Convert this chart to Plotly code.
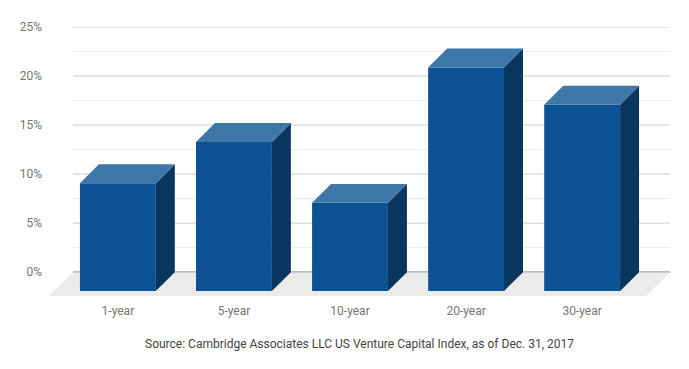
import plotly.graph_objects as go

# ---- data ----
categories = ["1-year", "5-year", "10-year", "20-year", "30-year"]
returns_pct = [11.0, 15.2, 9.0, 22.8, 19.0]
y_tick_values = [0, 5, 10, 15, 20, 25]
y_tick_labels = ["0%", "5%", "10%", "15%", "20%", "25%"]
minor_grid_values = [2.5, 7.5, 12.5, 17.5, 22.5]
source_text = "Source: Cambridge Associates LLC US Venture Capital Index, as of Dec. 31, 2017"

# ---- geometry (pixel scale of the axes) ----
PX_PER_CAT = 116.25
PX_PER_PCT = 9.88
BAR_HALF = 38 / PX_PER_CAT          # half bar width in category units
BAR_DX = 19 / PX_PER_CAT            # 3D depth, x
BAR_DY = 19 / PX_PER_PCT            # 3D depth, y (percent)
FLOOR_DX = 24 / PX_PER_CAT
FLOOR_DY = 24 / PX_PER_PCT
X_MIN = -69 / PX_PER_CAT
X_MAX = 553 / PX_PER_CAT
WALL_LEFT = X_MIN + FLOOR_DX

FRONT = "#0d5294"
TOP = "#3d76a9"
SIDE = "#09365f"

fig = go.Figure()

# floor
fig.add_trace(go.Scatter(
    x=[WALL_LEFT, X_MAX, X_MAX - FLOOR_DX, X_MIN, WALL_LEFT],
    y=[0, 0, -FLOOR_DY, -FLOOR_DY, 0],
    fill="toself", fillcolor="#ebebeb", mode="lines", line=dict(width=0),
    hoverinfo="skip", showlegend=False))

for i, (cat, v) in enumerate(zip(categories, returns_pct)):
    l, r = i - BAR_HALF, i + BAR_HALF
    # front face
    fig.add_trace(go.Scatter(
        x=[l, r, r, l, l], y=[-BAR_DY, -BAR_DY, v - BAR_DY, v - BAR_DY, -BAR_DY],
        fill="toself", fillcolor=FRONT, mode="lines", line=dict(width=0),
        name=cat, hovertemplate=f"{cat}: {v}%<extra></extra>", showlegend=False))
    # side face
    fig.add_trace(go.Scatter(
        x=[r, r + BAR_DX, r + BAR_DX, r, r], y=[-BAR_DY, 0, v, v - BAR_DY, -BAR_DY],
        fill="toself", fillcolor=SIDE, mode="lines", line=dict(width=0),
        hoverinfo="skip", showlegend=False))
    # top face
    fig.add_trace(go.Scatter(
        x=[l, r, r + BAR_DX, l + BAR_DX, l], y=[v - BAR_DY, v - BAR_DY, v, v, v - BAR_DY],
        fill="toself", fillcolor=TOP, mode="lines", line=dict(width=0),
        hoverinfo="skip", showlegend=False))

shapes = []
for yv in minor_grid_values:
    shapes.append(dict(type="line", xref="x", yref="y", x0=WALL_LEFT, x1=X_MAX, y0=yv, y1=yv,
                       line=dict(color="#ebebeb", width=1), layer="below"))
for yv in y_tick_values:
    shapes.append(dict(type="line", xref="x", yref="y", x0=WALL_LEFT, x1=X_MAX, y0=yv, y1=yv,
                       line=dict(color="#333333" if yv == 0 else "#cccccc", width=1), layer="below"))

# page body has an 8px margin; figure is sized to compensate
fig.update_layout(
    width=681, height=361,
    margin=dict(l=40, r=19, t=17, b=73),
    paper_bgcolor="white", plot_bgcolor="white",
    font=dict(family="Roboto", size=12, color="#757575"),
    shapes=shapes,
    xaxis=dict(range=[X_MIN, X_MAX], showgrid=False, zeroline=False, showline=False,
               tickvals=list(range(len(categories))), ticktext=categories,
               ticks="", ticklabelstandoff=6, fixedrange=True),
    yaxis=dict(range=[-FLOOR_DY, 25], showgrid=False, zeroline=False, showline=False,
               tickvals=y_tick_values, ticktext=y_tick_labels, ticks="",
               ticklabelstandoff=6, fixedrange=True),
    annotations=[dict(text=source_text, xref="paper", yref="paper", x=0.5, y=-0.177,
                      xanchor="center", yanchor="middle", showarrow=False,
                      font=dict(family="Roboto", size=12, color="#444444"))],
)

fig.write_html("out.html")
